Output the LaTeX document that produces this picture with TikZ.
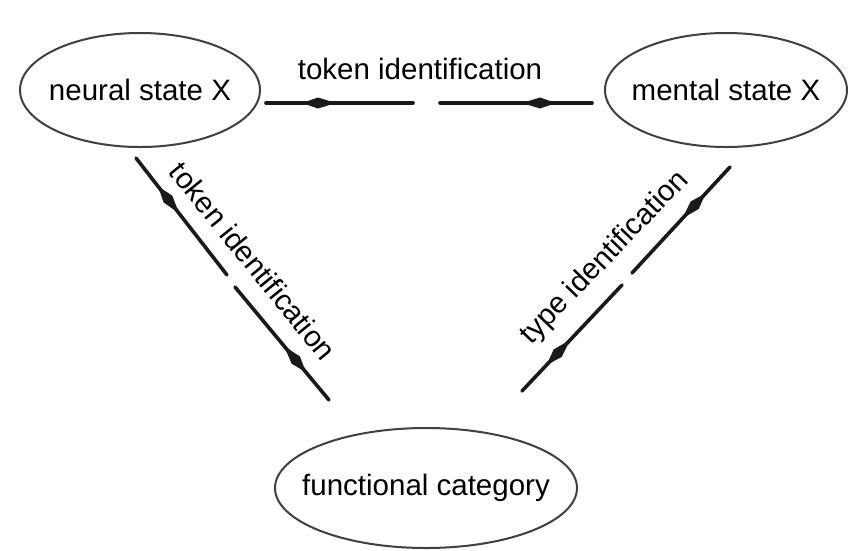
\documentclass[tikz,border=0pt]{standalone}
\usepackage{fontspec}
\setmainfont{Liberation Sans}
\usetikzlibrary{shapes.geometric,decorations.markings}
\definecolor{ink}{HTML}{1A1A1A}
\definecolor{rim}{HTML}{404040}
\tikzset{
  statebox/.style={ellipse,draw=rim,line width=2pt,inner sep=0pt,font=\fontsize{29.5}{32}\selectfont},
  lbl/.style={fill=white,inner sep=2pt,font=\fontsize{29.5}{32}\selectfont},
  seg/.style={draw=ink,line width=3.6pt,line cap=round},
  headend/.style={seg,postaction={decorate},decoration={markings,mark=at position -52pt with {\fill[ink] (16pt,0) -- (0,5.5pt) -- (-18pt,0) -- (0,-5.5pt) -- cycle;}}},
}
\begin{document}
\begin{tikzpicture}[x=1pt,y=-1pt]
\useasboundingbox[fill=white] (0,0) rectangle (848,550);
\node[statebox,minimum width=240pt,minimum height=114pt] (neural) at (140,90) {\makebox[0pt]{neural state X}};
\node[statebox,minimum width=242pt,minimum height=114pt] (mental) at (726,90) {\makebox[0pt]{mental state X}};
\node[statebox,minimum width=302pt,minimum height=120pt] (func) at (426,488) {\makebox[0pt]{functional category}};
% connector ends
\coordinate (a1) at (266,103);
\coordinate (a2) at (413,103);
\coordinate (a3) at (440,103);
\coordinate (a4) at (592,103);
\coordinate (b1) at (136,158);
\coordinate (b2) at (227,275);
\coordinate (b3) at (235,287);
\coordinate (b4) at (329,400);
\coordinate (c1) at (730,167);
\coordinate (c2) at (632,273);
\coordinate (c3) at (622,285);
\coordinate (c4) at (522,391);
\draw[headend] (a2) -- (a1);
\draw[headend] (a3) -- (a4);
\draw[headend] (b2) -- (b1);
\draw[headend] (b3) -- (b4);
\draw[headend] (c2) -- (c1);
\draw[headend] (c3) -- (c4);
\node[lbl] (ltop) at (420,69) {token identification};
\node[lbl,rotate=-51] (lleft) at (253,261) {token identification};
\node[lbl,rotate=46] (lright) at (605,258) {type identification};
\end{tikzpicture}
\end{document}
